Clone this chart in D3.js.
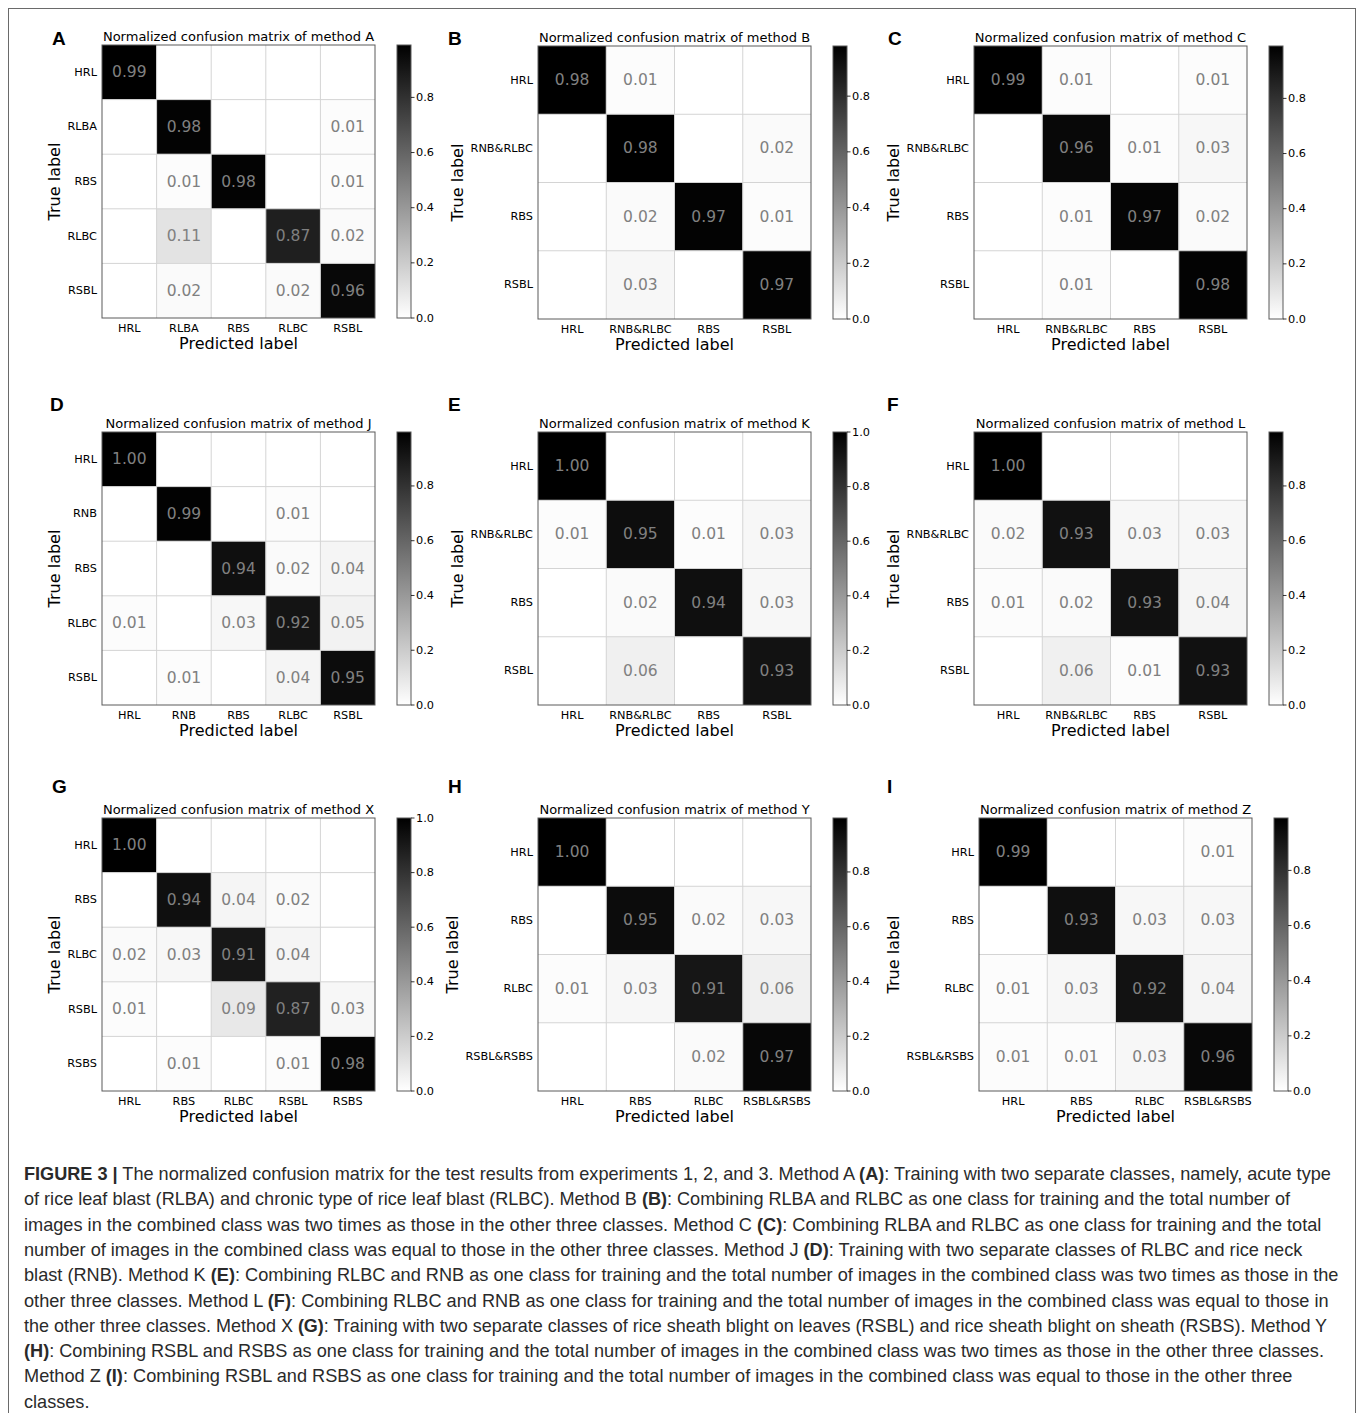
<!DOCTYPE html>
<html><head><meta charset="utf-8">
<script src="https://cdn.jsdelivr.net/npm/d3@7/dist/d3.min.js"></script>
<style>body{margin:0;background:#fff}svg{display:block}</style>
</head><body><svg id="fig" width="1358" height="1413"></svg>
<script>
// ---------------- DATA ----------------
const labelsA = ["HRL","RLBA","RBS","RLBC","RSBL"];
const valuesA = [
  [0.99,0,0,0,0],
  [0,0.98,0,0,0.01],
  [0,0.01,0.98,0,0.01],
  [0,0.11,0,0.87,0.02],
  [0,0.02,0,0.02,0.96]];
const labelsB = ["HRL","RNB&RLBC","RBS","RSBL"];
const valuesB = [
  [0.98,0.01,0,0],
  [0,0.98,0,0.02],
  [0,0.02,0.97,0.01],
  [0,0.03,0,0.97]];
const labelsC = ["HRL","RNB&RLBC","RBS","RSBL"];
const valuesC = [
  [0.99,0.01,0,0.01],
  [0,0.96,0.01,0.03],
  [0,0.01,0.97,0.02],
  [0,0.01,0,0.98]];
const labelsD = ["HRL","RNB","RBS","RLBC","RSBL"];
const valuesD = [
  [1.00,0,0,0,0],
  [0,0.99,0,0.01,0],
  [0,0,0.94,0.02,0.04],
  [0.01,0,0.03,0.92,0.05],
  [0,0.01,0,0.04,0.95]];
const labelsE = ["HRL","RNB&RLBC","RBS","RSBL"];
const valuesE = [
  [1.00,0,0,0],
  [0.01,0.95,0.01,0.03],
  [0,0.02,0.94,0.03],
  [0,0.06,0,0.93]];
const labelsF = ["HRL","RNB&RLBC","RBS","RSBL"];
const valuesF = [
  [1.00,0,0,0],
  [0.02,0.93,0.03,0.03],
  [0.01,0.02,0.93,0.04],
  [0,0.06,0.01,0.93]];
const labelsG = ["HRL","RBS","RLBC","RSBL","RSBS"];
const valuesG = [
  [1.00,0,0,0,0],
  [0,0.94,0.04,0.02,0],
  [0.02,0.03,0.91,0.04,0],
  [0.01,0,0.09,0.87,0.03],
  [0,0.01,0,0.01,0.98]];
const labelsH = ["HRL","RBS","RLBC","RSBL&RSBS"];
const valuesH = [
  [1.00,0,0,0],
  [0,0.95,0.02,0.03],
  [0.01,0.03,0.91,0.06],
  [0,0,0.02,0.97]];
const labelsI = ["HRL","RBS","RLBC","RSBL&RSBS"];
const valuesI = [
  [0.99,0,0,0.01],
  [0,0.93,0.03,0.03],
  [0.01,0.03,0.92,0.04],
  [0.01,0.01,0.03,0.96]];

const panelLetters = ["A","B","C","D","E","F","G","H","I"];
const methodNames  = ["A","B","C","J","K","L","X","Y","Z"];
const colorbarMax  = [0.99,0.98,0.99,0.997,1.0,0.997,1.0,0.997,0.99];
const colorbarTicks = [0,0.2,0.4,0.6,0.8,1.0];

const captionLines = [
  [["FIGURE 3 |",true],[" The normalized confusion matrix for the test results from experiments 1, 2, and 3. Method A ",false],["(A)",true],[": Training with two separate classes, namely, acute type",false]],
  [["of rice leaf blast (RLBA) and chronic type of rice leaf blast (RLBC). Method B ",false],["(B)",true],[": Combining RLBA and RLBC as one class for training and the total number of",false]],
  [["images in the combined class was two times as those in the other three classes. Method C ",false],["(C)",true],[": Combining RLBA and RLBC as one class for training and the total",false]],
  [["number of images in the combined class was equal to those in the other three classes. Method J ",false],["(D)",true],[": Training with two separate classes of RLBC and rice neck",false]],
  [["blast (RNB). Method K ",false],["(E)",true],[": Combining RLBC and RNB as one class for training and the total number of images in the combined class was two times as those in the",false]],
  [["other three classes. Method L ",false],["(F)",true],[": Combining RLBC and RNB as one class for training and the total number of images in the combined class was equal to those in",false]],
  [["the other three classes. Method X ",false],["(G)",true],[": Training with two separate classes of rice sheath blight on leaves (RSBL) and rice sheath blight on sheath (RSBS). Method Y",false]],
  [["(H)",true],[": Combining RSBL and RSBS as one class for training and the total number of images in the combined class was two times as those in the other three classes.",false]],
  [["Method Z ",false],["(I)",true],[": Combining RSBL and RSBS as one class for training and the total number of images in the combined class was equal to those in the other three",false]],
  [["classes.",false]]
];

// ---------------- LAYOUT ----------------
const panels = [
  {labels:labelsA, values:valuesA},
  {labels:labelsB, values:valuesB},
  {labels:labelsC, values:valuesC},
  {labels:labelsD, values:valuesD},
  {labels:labelsE, values:valuesE},
  {labels:labelsF, values:valuesF},
  {labels:labelsG, values:valuesG},
  {labels:labelsH, values:valuesH},
  {labels:labelsI, values:valuesI}
];
const layout = [
  {x:102,y:45, lx:52, ly:45},
  {x:538,y:46, lx:448,ly:45},
  {x:974,y:46, lx:888,ly:45},
  {x:102,y:432,lx:50, ly:411},
  {x:538,y:432,lx:448,ly:411},
  {x:974,y:432,lx:887,ly:411},
  {x:102,y:818,lx:52, ly:793},
  {x:538,y:818,lx:448,ly:793},
  {x:979,y:818,lx:887,ly:793}
];
const SIZE = 273;
const MPL = "DejaVu Sans, sans-serif";

const svg = d3.select("#fig");
svg.append("rect").attr("x",0).attr("y",0).attr("width",1358).attr("height",1413).attr("fill","#fff");
svg.append("rect").attr("x",8.5).attr("y",8.5).attr("width",1347).attr("height",1430)
  .attr("fill","none").attr("stroke","#6a6a6a").attr("stroke-width",1);

const defs = svg.append("defs");

panels.forEach((p, i) => {
  const L = layout[i];
  const vmax = colorbarMax[i];
  const g = svg.append("g");
  const x = d3.scaleBand().domain(p.labels).range([L.x, L.x + SIZE]);
  const y = d3.scaleBand().domain(p.labels).range([L.y, L.y + SIZE]);
  const color = d3.scaleLinear().domain([0, vmax]).range(["#ffffff","#000000"]).clamp(true);

  const cells = [];
  p.values.forEach((row, r) => row.forEach((v, c) => cells.push({r, c, v})));

  g.selectAll("rect.cell").data(cells).join("rect")
    .attr("x", d => x(p.labels[d.c])).attr("y", d => y(p.labels[d.r]))
    .attr("width", x.bandwidth()).attr("height", y.bandwidth())
    .attr("fill", d => color(d.v));

  // grid lines
  const bounds = d3.range(1, p.labels.length).map(k => k * x.bandwidth());
  g.selectAll("line.gv").data(bounds).join("line")
    .attr("x1", d => L.x + d).attr("x2", d => L.x + d)
    .attr("y1", L.y).attr("y2", L.y + SIZE)
    .attr("stroke","#d4d4d4").attr("stroke-width",1);
  g.selectAll("line.gh").data(bounds).join("line")
    .attr("y1", d => L.y + d).attr("y2", d => L.y + d)
    .attr("x1", L.x).attr("x2", L.x + SIZE)
    .attr("stroke","#d4d4d4").attr("stroke-width",1);

  // frame
  g.append("rect").attr("x", L.x).attr("y", L.y).attr("width", SIZE).attr("height", SIZE)
    .attr("fill","none").attr("stroke","#5a5a5a").attr("stroke-width",1);

  // cell text
  g.selectAll("text.val").data(cells.filter(d => d.v > 0)).join("text")
    .attr("x", d => x(p.labels[d.c]) + x.bandwidth()/2)
    .attr("y", d => y(p.labels[d.r]) + y.bandwidth()/2)
    .attr("text-anchor","middle").attr("dominant-baseline","central")
    .attr("font-family", MPL).attr("font-size", 15.5).attr("fill","#808080")
    .text(d => d3.format(".2f")(d.v));

  // y tick labels
  const yl = g.selectAll("text.yl").data(p.labels).join("text")
    .attr("x", L.x - 5).attr("y", d => y(d) + y.bandwidth()/2)
    .attr("text-anchor","end").attr("dominant-baseline","central")
    .attr("font-family", MPL).attr("font-size", 11.3).attr("fill","#000")
    .text(d => d);
  let maxW = 0;
  yl.each(function(){ maxW = Math.max(maxW, this.getComputedTextLength()); });

  // x tick labels
  g.selectAll("text.xl").data(p.labels).join("text")
    .attr("x", d => x(d) + x.bandwidth()/2).attr("y", L.y + SIZE + 14)
    .attr("text-anchor","middle")
    .attr("font-family", MPL).attr("font-size", 11.3).attr("fill","#000")
    .text(d => d);

  // axis titles
  g.append("text").attr("x", L.x + SIZE/2).attr("y", L.y + SIZE + 30.5)
    .attr("text-anchor","middle").attr("font-family", MPL).attr("font-size", 16).attr("fill","#000")
    .text("Predicted label");
  const tx = L.x - 5 - maxW - 13;
  g.append("text").attr("transform", `translate(${tx},${L.y + SIZE/2}) rotate(-90)`)
    .attr("text-anchor","middle").attr("dominant-baseline","central")
    .attr("font-family", MPL).attr("font-size", 16).attr("fill","#000")
    .text("True label");

  // title
  g.append("text").attr("x", L.x + SIZE/2).attr("y", L.y - 4)
    .attr("text-anchor","middle").attr("font-family", MPL).attr("font-size", 13).attr("fill","#000")
    .text("Normalized confusion matrix of method " + methodNames[i]);

  // panel letter
  g.append("text").attr("x", L.lx).attr("y", L.ly)
    .attr("font-family","Liberation Sans, Arial, sans-serif").attr("font-weight","bold")
    .attr("font-size", 19).attr("fill","#000").text(panelLetters[i]);

  // colorbar
  const cbx = L.x + SIZE + 22, cbw = 14;
  const gid = "grad" + i;
  const grad = defs.append("linearGradient").attr("id", gid)
    .attr("x1",0).attr("y1",1).attr("x2",0).attr("y2",0);
  grad.append("stop").attr("offset","0%").attr("stop-color", color(0));
  grad.append("stop").attr("offset","100%").attr("stop-color", color(vmax));
  const cy = d3.scaleLinear().domain([0, vmax]).range([L.y + SIZE, L.y]);
  g.append("rect").attr("x", cbx).attr("y", L.y).attr("width", cbw).attr("height", SIZE)
    .attr("fill", `url(#${gid})`).attr("stroke","#5a5a5a").attr("stroke-width",1);
  const ticks = colorbarTicks.filter(t => t <= vmax + 1e-9);
  g.selectAll("line.cbt").data(ticks).join("line")
    .attr("x1", cbx + cbw).attr("x2", cbx + cbw + 3.5)
    .attr("y1", d => cy(d)).attr("y2", d => cy(d))
    .attr("stroke","#000").attr("stroke-width",0.8);
  g.selectAll("text.cbl").data(ticks).join("text")
    .attr("x", cbx + cbw + 5).attr("y", d => cy(d))
    .attr("dominant-baseline","central")
    .attr("font-family", MPL).attr("font-size", 11.3).attr("fill","#000")
    .text(d => d3.format(".1f")(d));
});

// ---------------- CAPTION ----------------
const capX = 24, capY0 = 1180, capDY = 25.3;
const lineEnds = [1332,1291,1322,1303,1339,1330,1328,1325,1293,null];
const scales = [];
const capNodes = captionLines.map((parts, li) => {
  const t = svg.append("text").attr("x", 0).attr("y", 0)
    .attr("font-family","Liberation Sans, Arial, sans-serif").attr("font-size", 18)
    .attr("fill","#2a2a2a").attr("xml:space","preserve").style("white-space","pre");
  parts.forEach(([s, b]) => t.append("tspan").attr("font-weight", b ? "bold" : "normal").text(s));
  const w = t.node().getComputedTextLength();
  const sx = lineEnds[li] ? (lineEnds[li] - capX) / w : null;
  if (sx) scales.push(sx);
  return {t, sx, li};
});
const avgS = d3.mean(scales);
capNodes.forEach(({t, sx, li}) => {
  t.attr("transform", `translate(${capX},${capY0 + li*capDY}) scale(${sx || avgS},1)`);
});
</script>
</body></html>
